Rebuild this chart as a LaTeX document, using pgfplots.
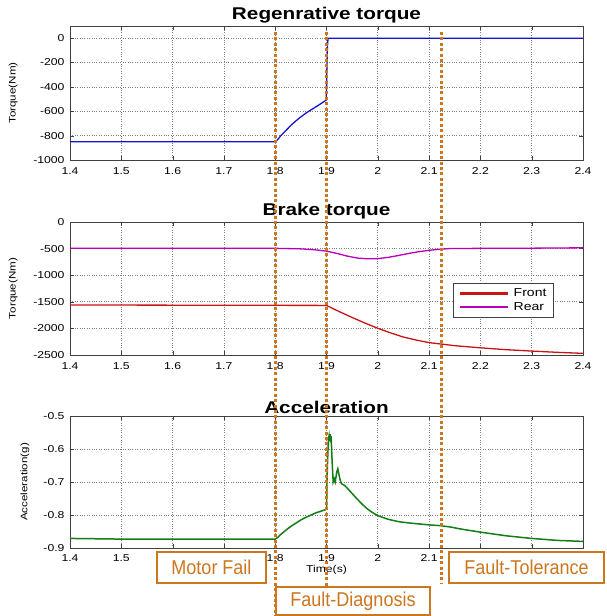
\documentclass[border=0pt]{standalone}
\usepackage{fontspec}
\setmainfont{Liberation Sans}[FakeStretch=1.22]
\newfontfamily\boxfont{Liberation Sans}[FakeStretch=0.9]
\usepackage{pgfplots}
\pgfplotsset{compat=1.18}

\definecolor{orng}{RGB}{204,118,30}
\definecolor{mblue}{RGB}{20,20,200}
\definecolor{mred}{RGB}{200,20,20}
\definecolor{mmag}{RGB}{185,0,185}
\definecolor{mgreen}{RGB}{20,125,20}

\pgfplotsset{
  every axis title/.style={at={(0.5,1)}, anchor=south, yshift=-1pt,
    font=\bfseries\fontsize{17}{19}\selectfont},
  panel/.style={
    scale only axis, width=513pt, anchor=south west,
    xmin=1.4, xmax=2.4,
    xtick={1.4,1.5,1.6,1.7,1.8,1.9,2,2.1,2.2,2.3,2.4},
    grid=major, grid style={dotted, black!50, line width=0.8pt},
    tick align=inside, major tick length=4pt,
    axis line style={black!75, line width=0.7pt},
    tick style={black!75},
    tick label style={font=\fontsize{10}{11}\selectfont},
    xticklabel style={yshift=-4pt},
    yticklabel style={xshift=-2pt},
    /pgf/number format/assume math mode=true,
    /pgf/number format/1000 sep={},
    ylabel style={font=\fontsize{9.5}{10}\selectfont,
      at={(axis description cs:-0.111,0.5)}, anchor=center},
    xlabel style={font=\fontsize{10}{11}\selectfont},
    every axis plot/.append style={line width=1.3pt, mark=none},
  }
}

\begin{document}
\begin{tikzpicture}
\useasboundingbox (0,0) rectangle (606pt,616pt);

% Regenerative torque
\begin{axis}[panel, at={(70pt,456pt)}, height=134pt,
  ymin=-1000, ymax=100, ytick={-1000,-800,-600,-400,-200,0},
  title={Regenrative torque}, ylabel={Torque(Nm)}]
\addplot[mblue] coordinates {
  (1.4,-850)(1.8,-850)(1.805,-832)(1.81,-805)(1.82,-762)(1.83,-718)
  (1.84,-680)(1.85,-646)(1.86,-615)(1.87,-588)(1.88,-562)(1.89,-535)
  (1.899,-510)(1.9,-440)(1.901,-200)(1.902,-60)(1.903,0)(2.4,0)
};
\end{axis}

% Brake torque
\begin{axis}[panel, at={(70pt,261pt)}, height=133pt,
  ymin=-2500, ymax=0, ytick={-2500,-2000,-1500,-1000,-500,0},
  title={Brake torque}, ylabel={Torque(Nm)},
  legend cell align=left,
  legend style={at={(axis description cs:0.747,0.545)}, anchor=north west,
    draw=black!75, font=\fontsize{11.5}{14}\selectfont,
    inner xsep=5pt, inner ysep=4pt}]
\addlegendimage{legend image code/.code={\path (-2pt,0pt) (50pt,0pt);
  \fill[mred] (0pt,-0.6pt) rectangle (46pt,0.6pt);}}
\addlegendentry{Front}
\addlegendimage{legend image code/.code={\path (-2pt,0pt) (50pt,0pt);
  \fill[mmag] (0pt,-0.6pt) rectangle (46pt,0.6pt);}}
\addlegendentry{Rear}
\addplot[mred, forget plot] coordinates {
  (1.4,-1560)(1.9,-1568)(1.925,-1685)(1.95,-1795)(1.975,-1900)(2.0,-1998)
  (2.025,-2085)(2.05,-2163)(2.075,-2220)(2.1,-2267)(2.15,-2325)(2.2,-2365)
  (2.25,-2400)(2.3,-2426)(2.35,-2450)(2.4,-2469)
};
\addplot[mmag, forget plot] coordinates {
  (1.4,-492)(1.6,-495)(1.8,-495)(1.85,-505)(1.88,-525)(1.9,-548)(1.92,-590)
  (1.94,-640)(1.96,-678)(1.98,-692)(2.0,-688)(2.02,-665)(2.04,-630)
  (2.06,-592)(2.08,-558)(2.1,-533)(2.12,-512)(2.14,-500)(2.2,-495)
  (2.3,-492)(2.4,-485)
};
\end{axis}

% Acceleration
\begin{axis}[panel, at={(70pt,68pt)}, height=132pt,
  ymin=-0.9, ymax=-0.5, ytick={-0.9,-0.8,-0.7,-0.6,-0.5},
  xticklabels={1.4,1.5,,,1.8,1.9,2,2.1,,,},
  xticklabel style={yshift=1pt},
  title={Acceleration}, xlabel={Time(s)}, ylabel={Acceleration(g)},
  xlabel style={yshift=3pt},
  ylabel style={at={(axis description cs:-0.088,0.5)}}]
\addplot[mgreen, line width=1.5pt] coordinates {
  (1.4,-0.871)(1.5,-0.873)(1.6,-0.873)(1.7,-0.873)(1.8,-0.873)
  (1.805,-0.868)(1.81,-0.86)(1.82,-0.847)(1.83,-0.835)(1.84,-0.825)
  (1.85,-0.815)(1.86,-0.807)(1.87,-0.8)(1.88,-0.793)(1.89,-0.788)
  (1.898,-0.784)(1.9,-0.78)(1.901,-0.70)(1.902,-0.64)(1.903,-0.6)
  (1.904,-0.57)(1.905,-0.56)(1.906,-0.575)(1.907,-0.555)(1.908,-0.58)
  (1.909,-0.56)(1.911,-0.64)(1.913,-0.70)(1.915,-0.69)(1.917,-0.70)
  (1.92,-0.67)(1.922,-0.66)(1.924,-0.675)(1.926,-0.69)(1.929,-0.705)
  (1.935,-0.71)(1.94,-0.718)(1.95,-0.735)(1.96,-0.752)(1.97,-0.768)
  (1.98,-0.782)(1.99,-0.793)(2.0,-0.802)(2.02,-0.813)(2.04,-0.82)
  (2.06,-0.824)(2.08,-0.827)(2.1,-0.83)(2.12,-0.832)(2.14,-0.836)
  (2.16,-0.842)(2.2,-0.852)(2.25,-0.863)(2.3,-0.871)(2.35,-0.877)(2.4,-0.88)
};
\end{axis}

% phase markers
\begin{scope}[orng, line width=3pt, dash pattern=on 3pt off 2.4pt]
\draw (275.2pt,584pt) -- (275.2pt,0pt);
\draw (326.5pt,584pt) -- (326.5pt,30pt);
\draw (441.9pt,584pt) -- (441.9pt,33pt);
\end{scope}

\begin{scope}[every node/.style={draw=orng, fill=white, line width=1.2pt,
    text=orng, inner sep=0pt, font=\boxfont\fontsize{20}{22}\selectfont}]
\node[minimum width=109pt, minimum height=31pt] at (211.5pt,48.5pt) {Motor Fail};
\node[minimum width=155pt, minimum height=31pt] at (526.5pt,48.5pt) {Fault-Tolerance};
\node[minimum width=154pt, minimum height=28pt] at (353pt,15pt) {Fault-Diagnosis};
\end{scope}
\end{tikzpicture}
\end{document}
